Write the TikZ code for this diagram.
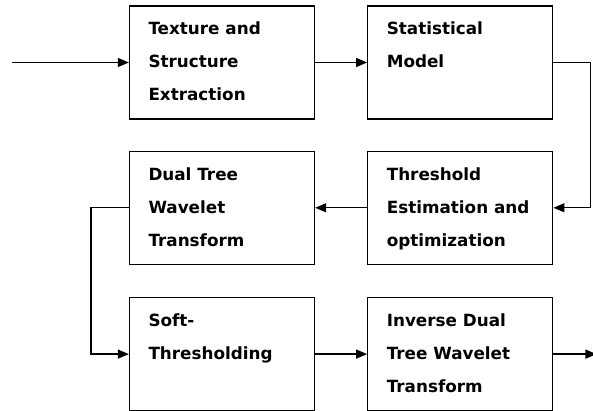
\documentclass[tikz,border=0pt]{standalone}
\usepackage{fontspec}
\setmainfont{DejaVu Sans}
\usetikzlibrary{arrows.meta,positioning}
\newcommand{\blockfont}{\fontsize{16.8}{33}\selectfont\bfseries}
\newcommand{\blocktext}[1]{\parbox[c][113pt][t]{147pt}{\rule{0pt}{29pt}#1}}

\begin{document}
\begin{tikzpicture}[x=1pt, y=1pt, font=\blockfont,
  block/.style={draw, line width=1.3pt, inner xsep=19pt, inner ysep=0pt, minimum width=185pt, align=left},
  flow/.style={draw, line width=1.3pt, -{Triangle[length=11pt,width=9pt]}}]
\useasboundingbox (0,0) rectangle (593,-411);
\node[block] (tex) at (222,-62.5) {\blocktext{Texture and\\Structure\\Extraction}};
\node[block, right=52pt of tex] (stat) {\blocktext{Statistical\\Model}};
\node[block, below=31pt of stat] (thresh) {\blocktext{Threshold\\Estimation and\\optimization}};
\node[block, below=31pt of tex] (dual) {\blocktext{Dual Tree\\Wavelet\\Transform}};
\node[block, below=32pt of dual] (soft) {\blocktext{Soft-\\Thresholding}};
\node[block, below=32pt of thresh] (inv) {\blocktext{Inverse Dual\\Tree Wavelet\\Transform}};

\coordinate[left=117pt of tex.west] (input);
\coordinate[right=43pt of inv.east] (output);

\draw[flow] (input) -- (tex.west);
\draw[flow] (tex.east) -- (stat.west);
\draw[flow] (stat.east) -- ++(37,0) |- (thresh.east);
\draw[flow] (thresh.west) -- (dual.west -| dual.east);
\draw[flow] (dual.west) -- ++(-38,0) |- (soft.west);
\draw[flow] (soft.east) -- (inv.west);
\draw[flow] (inv.east) -- (output);
\end{tikzpicture}
\end{document}
